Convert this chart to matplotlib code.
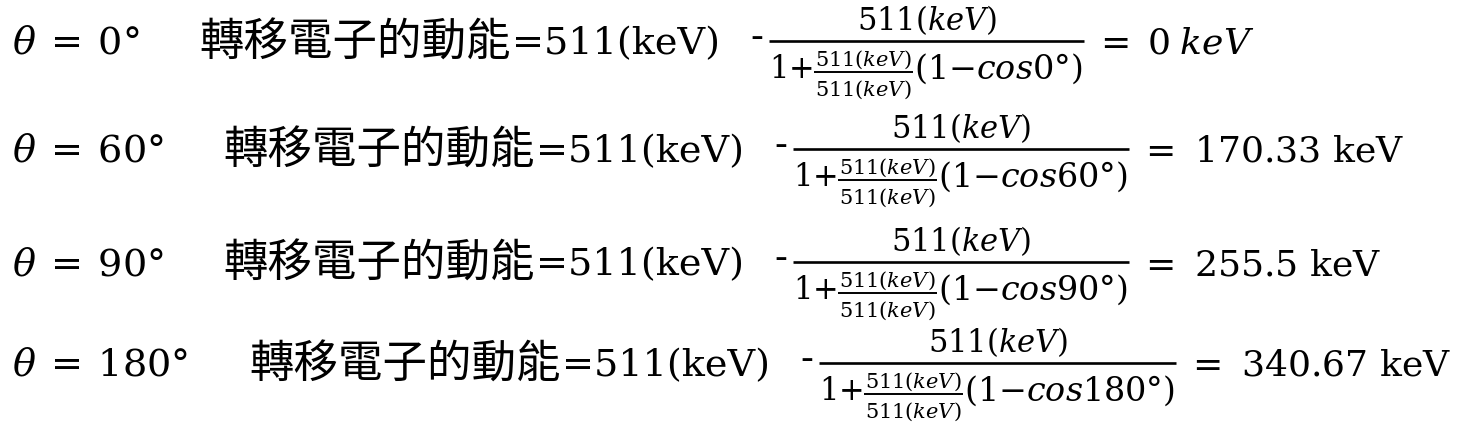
import matplotlib
matplotlib.use("Agg")
import matplotlib.pyplot as plt

plt.rcParams["font.family"] = ["DejaVu Serif", "Noto Sans CJK TC"]
plt.rcParams["mathtext.fontset"] = "dejavuserif"

# values shown in the picture
angles = ["0", "60", "90", "180"]
results = ["0", "170.33", "255.5", "340.67"]
italic_unit = [True, False, False, False]
rest_energy = "511"
label = "轉移電子的動能"

# layout (pixels)
x_theta = 12
x_label = [199, 223, 223, 249]
baselines = [54, 162, 275, 376]
fs = 27.5      # main latin text
fs_res = 26    # results on the right
fs_cjk = 32    # chinese text
fs_num = 22    # big fraction
fs_par = 24    # (1 - cos) group
fs_in = 15     # inner fraction

fig = plt.figure(figsize=(14.67, 4.41), dpi=100)
ax = fig.add_axes([0, 0, 1, 1])
ax.set_xlim(0, 1467)
ax.set_ylim(441, 0)
ax.axis("off")
renderer = fig.canvas.get_renderer()


def right_edge(t):
    return t.get_window_extent(renderer).x1


def width(t):
    return t.get_window_extent(renderer).width


kev = rest_energy + "(keV)"
km = "$" + kev + "$"
for i, a in enumerate(angles):
    y = baselines[i]
    ax.text(x_theta, y, r"$\theta\:=\:" + a + "°$", fontsize=fs, va="baseline")

    t = ax.text(x_label[i], y + 2, label, fontsize=fs_cjk, va="baseline",
                family="Noto Sans CJK TC")
    t = ax.text(right_edge(t) + 2, y, "=" + kev, fontsize=fs, va="baseline")
    h = ax.text(right_edge(t) + 30, y - 6, "-", fontsize=fs, va="baseline")
    x0 = right_edge(h) + 6

    # denominator: 1 + 511(keV)/511(keV) (1 - cos a)
    one = ax.text(x0, y + 24, r"$1{+}$", fontsize=fs_num, va="baseline")
    x1 = right_edge(one) + 1
    n_in = ax.text(x1, y + 12, km, fontsize=fs_in, va="baseline")
    w_in = width(n_in) + 2
    n_in.set_x(x1 + w_in / 2)
    n_in.set_ha("center")
    ax.text(x1 + w_in / 2, y + 42, km, fontsize=fs_in, va="baseline", ha="center")
    ax.plot([x1, x1 + w_in], [y + 18, y + 18], color="black", lw=1.4,
            solid_capstyle="butt")
    p = ax.text(x1 + w_in + 1, y + 25, r"$(1{-}cos" + a + "°)$", fontsize=fs_par,
                va="baseline")
    x3 = right_edge(p) + 2

    # main fraction bar and numerator
    ax.plot([x0, x3], [y - 13, y - 13], color="black", lw=1.9,
            solid_capstyle="butt")
    ax.text((x0 + x3) / 2, y - 24, km, fontsize=fs_num, ha="center", va="baseline")

    if italic_unit[i]:
        res = r"$=\;" + results[i] + r"\;keV$"
    else:
        res = r"$=$ " + results[i] + " keV"
    ax.text(x3 + 10, y, res, fontsize=fs_res, va="baseline")

fig.savefig("out.png", dpi=100)
